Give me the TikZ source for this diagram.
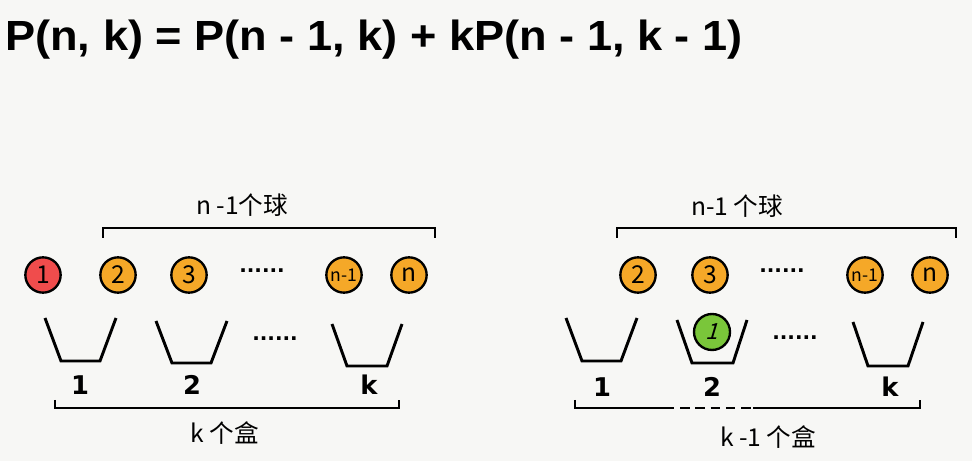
\documentclass[tikz,border=0pt]{standalone}
\usepackage{fontspec}
\setmainfont{Liberation Sans}
\newfontfamily\cjk{Noto Sans CJK SC}
\newfontfamily\cjkslant{Noto Sans CJK SC}[FakeSlant=0.3]
\newfontfamily\heavy{DejaVu Sans}
\usetikzlibrary{positioning}
\definecolor{paper}{RGB}{247,247,245}
\definecolor{redBall}{RGB}{240,76,76}
\definecolor{orangeBall}{RGB}{245,168,40}
\definecolor{greenBall}{RGB}{122,198,58}
\tikzset{
    % Balls
    ball/.style={circle, draw=black, line width=2pt, minimum size=1.06cm, inner sep=0pt,
                 font=\cjk\fontsize{21}{21}\selectfont},
    ballR/.style={ball, fill=redBall},
    ballO/.style={ball, fill=orangeBall},
    ballG/.style={ball, fill=greenBall, minimum size=1.08cm, font=\cjkslant\fontsize{19}{19}\selectfont},
    smalltxt/.style={font=\cjk\fontsize{15}{15}\selectfont},
    % Lines
    bucket/.style={line width=2.5pt},
    brace/.style={line width=2pt},
    % Texts
    lbl/.style={font=\cjk\fontsize{21}{21}\selectfont},
    boxnum/.style={font=\heavy\bfseries\fontsize{22}{22}\selectfont},
    dots/.style={font=\heavy\bfseries\fontsize{17}{17}\selectfont}
}
\begin{document}
\begin{tikzpicture}[x=0.03cm, y=-0.03cm]

\fill[paper] (0,0) rectangle (972,461);
\useasboundingbox (0,0) rectangle (972,461);

% Formula
\node[anchor=west, font=\bfseries\fontsize{36}{36}\selectfont, xscale=1.07, inner sep=0pt] (formula) at (5,40)
    {P(n, k) = P(n - 1, k) + kP(n - 1, k - 1)};

% Left: balls
\node[ballR] (l1) at (43,275) {1};
\node[ballO] (l2) at (118,275) {2};
\node[ballO] (l3) at (189,275) {3};
\node[dots] (ldots) at (262,271) {......};
\node[ballO, smalltxt] (lnm) at (344,275) {n-1};
\node[ballO] (ln) at (409,275) {n};

% Left: buckets
\draw[bucket] (45,318) -- (61,361) -- (100,361) -- (116,318);
\draw[bucket] (156,321) -- (172,363) -- (211,363) -- (227,321);
\node[dots] (lbdots) at (275,339) {......};
\draw[bucket] (332,324) -- (347,366) -- (387,366) -- (402,324);
\node[boxnum] (lb1) at (80,385) {1};
\node[boxnum] (lb2) at (192,385) {2};
\node[boxnum] (lbk) at (369,385) {k};

% Left: brackets
\coordinate (lta) at (103,228);
\coordinate (ltb) at (435,228);
\draw[brace] ([yshift=-10*0.03cm]lta) -- (lta) -- (ltb) -- ([yshift=-10*0.03cm]ltb);
\node[lbl] (lballs) at (242,205) {n -1个球};
\coordinate (lba) at (55,408);
\coordinate (lbb) at (399,408);
\draw[brace] ([yshift=8*0.03cm]lba) -- (lba) -- (lbb) -- ([yshift=8*0.03cm]lbb);
\node[lbl] (lboxes) at (225,433) {k 个盒};

% Right: balls
\node[ballO] (r2) at (638,275) {2};
\node[ballO] (r3) at (710,275) {3};
\node[dots] (rdots) at (782,271) {......};
\node[ballO, smalltxt] (rnm) at (865,275) {n-1};
\node[ballO] (rn) at (930,275) {n};

% Right: buckets
\draw[bucket] (566,318) -- (582,361) -- (621,361) -- (637,318);
\draw[bucket] (677,320) -- (692,363) -- (733,363) -- (747,320);
\node[ballG] (r1) at (712,332) {1};
\node[dots] (rbdots) at (795,338) {......};
\draw[bucket] (853,322) -- (868,366) -- (908,366) -- (923,322);
\node[boxnum] (rb1) at (602,387) {1};
\node[boxnum] (rb2) at (712,387) {2};
\node[boxnum] (rbk) at (890,387) {k};

% Right: brackets
\coordinate (rta) at (617,228);
\coordinate (rtb) at (956,228);
\draw[brace] ([yshift=-10*0.03cm]rta) -- (rta) -- (rtb) -- ([yshift=-10*0.03cm]rtb);
\node[lbl] (rballs) at (737,206) {n-1 个球};
\coordinate (rba) at (575,408);
\coordinate (rgapa) at (665,408);
\coordinate (rgapb) at (753,408);
\coordinate (rbb) at (920,408);
\draw[brace] ([yshift=8*0.03cm]rba) -- (rba) -- (rgapa);
\draw[brace, dash pattern=on 8pt off 5pt] (rgapa) -- (rgapb);
\draw[brace] (rgapb) -- (rbb) -- ([yshift=8*0.03cm]rbb);
\node[lbl] (rboxes) at (768,437) {k -1 个盒};

\end{tikzpicture}
\end{document}
